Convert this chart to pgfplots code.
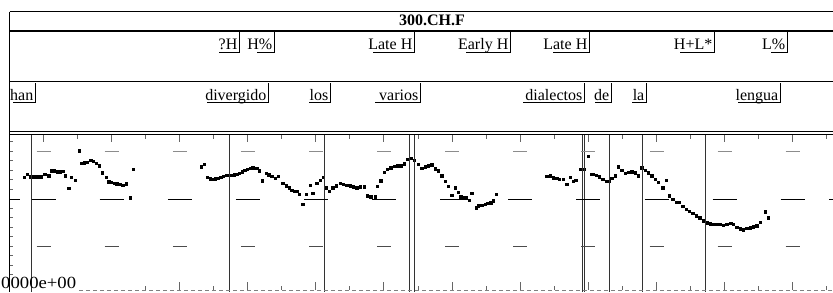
\documentclass[border=0pt]{standalone}
\usepackage{fontspec}
\setmainfont{Liberation Serif}
\usepackage{pgfplots}
\pgfplotsset{compat=1.18}
\newcommand{\lab}[4]{%
  \draw[line width=0.9pt] (#2,#4+19.5) -- (#1,#4+19.5) -- (#1,#4);
  \node[anchor=base east, inner sep=0pt, font=\fontsize{16}{19}\selectfont] at (#1-1.5,#4+17.5) {#3};
}
\begin{document}
\begin{tikzpicture}
\useasboundingbox (0,0) rectangle (833pt,292pt);
\clip (0,0) rectangle (833pt,292pt);
\begin{axis}[at={(0,0)}, anchor=south west, scale only axis, width=833pt, height=292pt,
  xmin=0, xmax=833, ymin=0, ymax=292, y dir=reverse, hide axis, clip=false]
\addplot[only marks, mark=square*, mark size=1.25pt, black] coordinates {
(24,177.3)(27.3,174)(30,176.7)(32.7,176.7)(35.3,176.7)(38,176.7)(40.7,176.7)(44.7,174)(48.7,175.7)(51.3,170.7)(54,170.7)(57.3,171.7)(60,171.7)(62.7,171)(65.3,175.7)(68.7,188.3)(71.3,177.3)(75.3,180)(79,150.7)(81.7,163.3)(84.3,162.7)(87.3,162.3)(90.7,160)(93.3,161)(96,163.3)(99,165.7)(102.3,172.7)(106,177.3)(108.7,181.7)(111.3,182.3)(114.3,183)(116.7,183.7)(120,184.3)(122.7,185.3)(126,183.7)(130,197.7)(133.3,169.3)
(201,166.7)(204,164.3)(207.3,177.3)(210,178.7)(212.7,179)(215.3,178.7)(218,178)(220.7,177)(223.3,176.3)(226,175.3)(228.7,175)(231.3,175)(234,174.7)(236.7,174)(239.3,173)(242,171.7)(244.7,170.3)(247.3,169.3)(250,168.3)(252.7,167.7)(256.7,168.3)(259.3,170.7)(262.3,180.7)(266,173.3)(268.7,174.5)(271.7,176.3)(275,178.3)(278.3,176)
(282.7,183.3)(286,185.7)(289,187.7)(291.7,190)(294,191)(296.7,191)(299.3,194.3)(302.7,204.3)(306,194.3)(310,185)(312.7,193.3)(316.7,183.3)(320,180)(323.3,177.3)(326,187.7)(329.3,191)(332.7,187.7)(336,185.7)(340,183.3)(343.3,184.3)(346.7,185)(350,185.7)(353.3,186.7)(356.7,187.7)(360,186.7)(364,186.7)(367.3,195.7)(370.7,196.7)(375,196.7)(377.3,186)(380.7,180.7)(384.3,172.3)(387.3,169)(390.7,167.7)(394,166.3)(397.3,165.7)(400.7,165.7)(404,163.7)(407.3,159.3)(410.7,158.3)(414,160)(418,164.3)
(421.7,168.3)(425,166.7)(428.3,165.5)(431.7,164.5)(435,168.8)(438.3,170.7)(441.7,175.7)(445,181)(448.3,186)(451.7,195)(455,187.7)(458.3,192.3)(460.7,196.7)(463.3,197.7)(466,197.7)(469,200)(471.7,193.3)(476,207.7)(478.3,205.7)(481.7,205)(485,204)(487.7,203.3)(490.7,202.7)(493.3,200.7)(496.3,194)
(546.7,176)(550,175.7)(553.3,177.7)(556.7,178.3)(559.3,179)(563.3,179.3)(566.7,184.3)(570,177.3)(573.3,181)(575.7,180)(580.7,169.3)(584,169.3)(588.3,156)(591,174.3)(593.3,174.3)(596,175)(599.3,176.7)(602.7,179)(606,181)(608.7,181)(611.7,178.3)(615,175.7)(618.3,166.7)(621.7,170)(625,173.3)(628.3,172.3)(631.7,171.7)(635,172.7)(638.3,175.7)(641.7,167.7)(645,170)(648.3,172.7)(651.7,175.7)(655,179)(658.3,182.3)(662.7,187.7)(666,180)(669.3,195.7)(672.7,199)(676,202.3)(679.3,202.3)(682.7,206)(686,209)(689.3,211)(692.7,213.3)(696,215.7)(699.5,217.7)(703.3,220.5)(706.7,222.7)(710,223.7)(713.3,224)(716.7,224.3)(720,224.3)(723.3,225)(726.7,224.3)(730.7,223.3)(733.3,224.3)(736.7,227.2)(740,228.7)(743.3,229.5)(746.7,228.3)(750,227.7)(753.3,226.7)(756.7,225.5)(760,222.3)(765,211.7)(768.3,217.7)
};
\end{axis}
\begin{scope}[shift={(0,292pt)}, x=1pt, y=-1pt]
% frame
\draw[line width=1pt] (9.5,12) -- (833,12);
\draw[line width=2pt] (9.5,31.5) -- (833,31.5);
\draw[line width=1pt] (9.5,82) -- (833,82);
\draw[line width=1pt] (9.5,131.5) -- (833,131.5);
\draw[line width=1pt] (9.5,135) -- (833,135);
\draw[line width=1pt] (9.5,12) -- (9.5,292);
\node[anchor=base, inner sep=0pt, font=\fontsize{16}{19}\selectfont\bfseries] at (432,26) {300.CH.F};
% tone tier
\lab{239}{219}{?H}{32.5}
\lab{274}{257}{H\%}{32.5}
\lab{414}{373}{Late H}{32.5}
\lab{510}{466}{Early H}{32.5}
\lab{589}{553}{Late H}{32.5}
\lab{714}{680}{H+L*}{32.5}
\lab{787}{771}{L\%}{32.5}
% word tier
\lab{35}{13}{han}{83}
\lab{268}{207}{divergido}{83}
\lab{330}{309}{los}{83}
\lab{420}{375}{varios}{83}
\lab{584}{523}{dialectos}{83}
\lab{611}{595}{de}{83}
\lab{646}{632}{la}{83}
\lab{780}{738}{lengua}{83}
% pitch panel
\foreach \x in {31.7,229,324,409.3,414.3,582.3,584.7,609.3,642.7,705}
  \draw[line width=1pt, black!80] (\x,135) -- (\x,292);
\foreach \k in {0,...,23} {
  \pgfmathsetmacro{\xx}{43.3+34.05*\k}
  \ifodd\k
    \draw[line width=0.7pt, black!60] (\xx,135.5) -- (\xx,139.5);
    \ifnum\k>2 \draw[line width=0.7pt, black!60] (\xx,290) -- (\xx,286);\fi
  \else
    \draw[line width=0.7pt, black!60] (\xx,135.5) -- (\xx,142);
    \ifnum\k>2 \draw[line width=0.7pt, black!60] (\xx,290) -- (\xx,282);\fi
  \fi
}
\foreach \k in {0,...,11} {
  \pgfmathsetmacro{\cc}{43.6+68.1*\k}
  \draw[line width=0.9pt, black!45] (\cc-7,151) -- (\cc+7,151);
  \draw[line width=0.9pt, black] (\cc-12,199) -- (\cc+12,199);
  \draw[line width=0.9pt, black!70] (\cc-7,246) -- (\cc+7,246);
}
\draw[line width=0.9pt] (829,199) -- (833,199);
\foreach \y in {141.7,151,160.7,170,179.3,189,208.3,217.7,227,236.7,246,255.7,265,274.3}
  \draw[line width=0.6pt, black!60] (9.5,\y) -- (13,\y);
\draw[line width=0.8pt] (9.5,199) -- (20,199);
\draw[line width=0.7pt, black!50, dash pattern=on 4pt off 3pt] (79,290) -- (833,290);
\node[anchor=base west, inner sep=0pt, font=\fontsize{17}{20}\selectfont] at (1,288.5) {\scalebox{1.1}[1]{0000e+00}};
\end{scope}
\end{tikzpicture}
\end{document}
